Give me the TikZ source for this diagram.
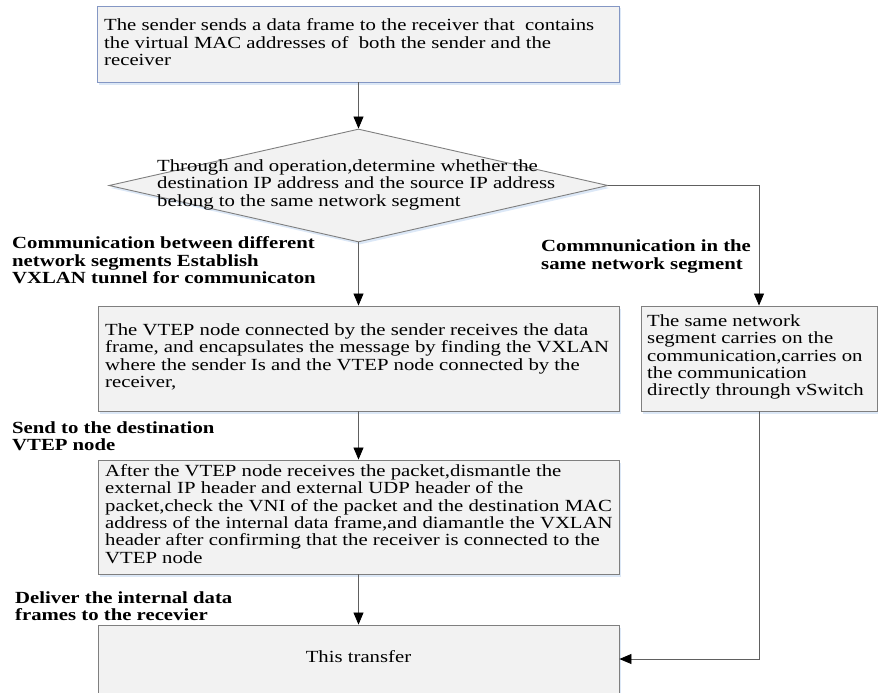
\documentclass[tikz,border=0pt]{standalone}
\usepackage{fontspec}
\setmainfont{Liberation Serif}[FakeStretch=1.22]
\usetikzlibrary{arrows.meta,shapes.geometric,shadows}
\definecolor{boxfill}{HTML}{F2F2F2}
\definecolor{boxline}{HTML}{7F7F7F}
\definecolor{topline}{HTML}{8497C4}
\definecolor{connline}{HTML}{606060}
\definecolor{glow}{HTML}{C5D9F1}
\newcommand{\fl}{\rule{0pt}{12pt}}
\begin{document}
\begin{tikzpicture}[x=1pt,y=-1pt,
  boxstyle/.style={draw=boxline, line width=0.9pt, fill=boxfill, inner sep=0pt,
    drop shadow={shadow xshift=1.5pt,shadow yshift=-2.5pt,fill=glow,opacity=0.6}},
  txt/.style={anchor=north west, inner sep=0pt, align=left, font=\fontsize{17}{17.4}\selectfont},
  lbl/.style={anchor=north west, inner sep=0pt, align=left, font=\fontsize{17}{17.4}\selectfont\bfseries},
  link/.style={draw=connline, line width=0.8pt, -{Triangle[length=12pt,width=10pt,color=black]}},
]
\useasboundingbox (0,0) rectangle (878,693);

% boxes
\node[boxstyle, draw=topline, minimum width=522pt, minimum height=76pt] (top) at (358.5,44) {};
\node[boxstyle, diamond, minimum width=499pt, minimum height=113pt] (dec) at (358.5,185.5) {};
\node[boxstyle, minimum width=521pt, minimum height=105pt] (mid) at (358.5,358.5) {};
\node[boxstyle, minimum width=236pt, minimum height=105pt] (right) at (759,358.5) {};
\node[boxstyle, minimum width=521pt, minimum height=114pt] (b3) at (358.5,517) {};
\node[boxstyle, minimum width=521pt, minimum height=72pt] (fin) at (358.5,661) {};

% texts
\node[txt] (ttop) at (104,18.5) {\fl The sender sends a data frame to the receiver that~ contains\\
the virtual MAC addresses of~ both the sender and the\\
receiver};
\node[txt] (tdec) at (157,159) {\fl Through and operation,determine whether the\\
destination IP address and the source IP address\\
belong to the same network segment};
\node[txt] (tmid) at (105,323) {\fl The VTEP node connected by the sender receives the data\\
frame, and encapsulates the message by finding the VXLAN\\
where the sender Is and the VTEP node connected by the\\
receiver,};
\node[txt] (tright) at (647,314) {\fl The same network\\
segment carries on the\\
communication,carries on\\
the communication\\
directly throungh vSwitch};
\node[txt] (tb3) at (105,464) {\fl After the VTEP node receives the packet,dismantle the\\
external IP header and external UDP header of the\\
packet,check the VNI of the packet and the destination MAC\\
address of the internal data frame,and diamantle the VXLAN\\
header after confirming that the receiver is connected to the\\
VTEP node};
\node[anchor=base, inner sep=0pt, font=\fontsize{17}{17.4}\selectfont] (tfin) at (358.5,662) {This transfer};

% labels
\node[lbl] (ldiff) at (12,236.5) {\fl Communication between different\\
network segments Establish\\
VXLAN tunnel for communicaton};
\node[lbl] (lsame) at (541,239.5) {\fl Commnunication in the\\
same network segment};
\node[lbl] (lsend) at (12,421) {\fl Send to the destination\\
VTEP node};
\node[lbl] (ldel) at (15,591) {\fl Deliver the internal data\\
frames to the recevier};

% connectors
\draw[link] (top.south) -- (dec.north);
\draw[link] (dec.south) -- (mid.north);
\draw[link] (dec.east) -| (right.north);
\draw[link] (mid.south) -- (b3.north);
\draw[link] (b3.south) -- (fin.north);
\draw[link] (right.south) |- ([yshift=2pt]fin.east);
\end{tikzpicture}
\end{document}
